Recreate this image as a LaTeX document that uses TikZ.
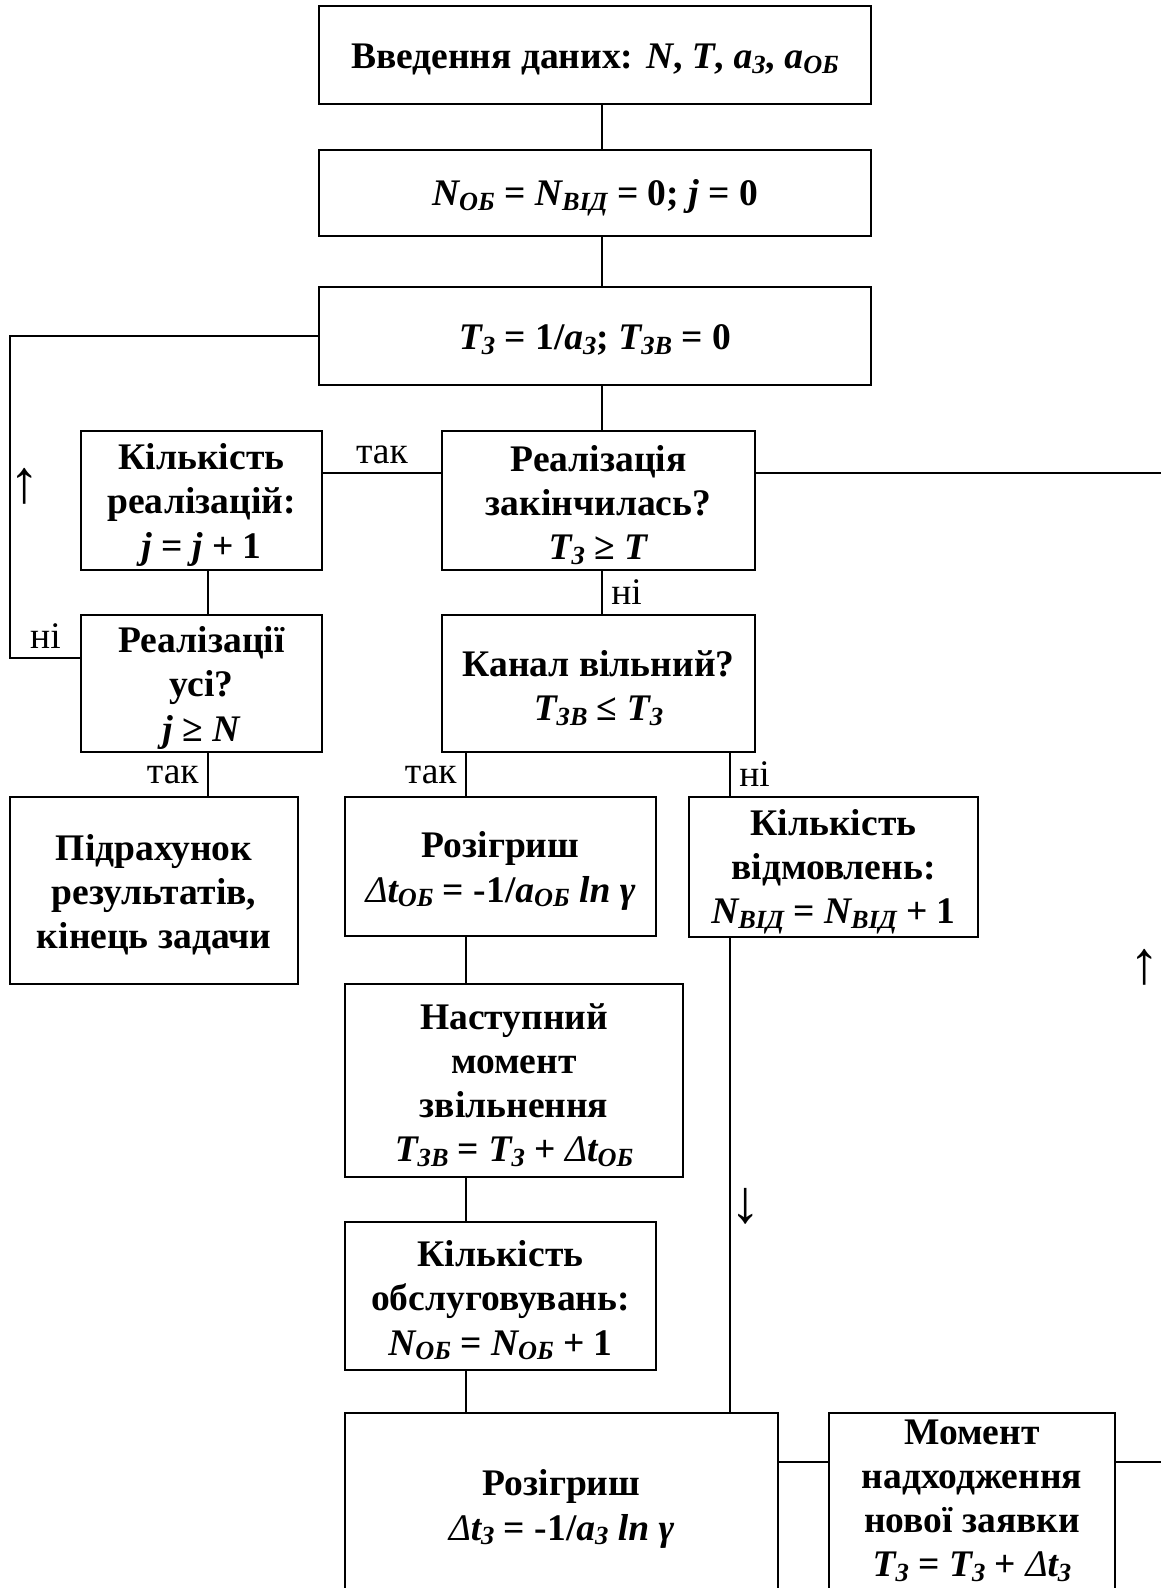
\documentclass[tikz,border=0pt]{standalone}
\usepackage{fontspec}
\setmainfont{Liberation Serif}
\usetikzlibrary{calc}
\def\px{0.3623} % one pixel of the layout, in pt
\tikzstyle{block}=[draw, line width=0.9pt, inner sep=0pt, outer sep=0pt]
\tikzstyle{blocktext}=[align=center, inner sep=0pt, font=\bfseries\fontsize{13.6pt}{16pt}\selectfont]
\tikzstyle{link}=[line width=0.75pt]
\tikzstyle{answer}=[font=\fontsize{13.6pt}{16pt}\selectfont, inner sep=3pt]
\tikzstyle{pointer}=[font=\fontsize{22pt}{22pt}\selectfont, inner sep=0pt]
\newcommand{\lowidx}[1]{\raisebox{-0.13em}{\fontsize{9.5pt}{10pt}\selectfont #1}}
\newcommand{\drawblock}[7][-1.6pt]{% [text shift] name, left, top, right, bottom, text
  \pgfmathsetmacro{\bw}{(#5-#3)*\px}
  \pgfmathsetmacro{\bh}{(#6-#4)*\px}
  \node[block, minimum width=\bw pt, minimum height=\bh pt] (#2) at ({(#3+#5)/2},{(#4+#6)/2}) {};
  \node[blocktext] (#2-text) at ([yshift=#1]#2.center) {#7};
}
\begin{document}
\begin{tikzpicture}[x=0.3623pt, y=-0.3623pt]
	\useasboundingbox (0,0) rectangle (1161,1588);
	% columns and rows of the connectors
	\coordinate (maincol) at (602,0);
	\coordinate (leftcol) at (208,0);
	\coordinate (yescol) at (466,0);
	\coordinate (nocol) at (730,0);
	\coordinate (loopcol) at (10,0);
	\coordinate (endrow) at (0,473);
	\coordinate (allrow) at (0,658);
	\coordinate (newrow) at (0,1462);
	\coordinate (edgeA) at (1161,473);
	\coordinate (edgeB) at (1161,1462);
	% blocks
	\drawblock{input}{319}{6}{871}{104}{Введення даних: \textit{N}, \textit{T}, \textit{a\lowidx{З}}, \textit{a\lowidx{ОБ}}}
	\drawblock{init}{319}{150}{871}{236}{\textit{N\lowidx{ОБ}} = \textit{N\lowidx{ВІД}} = 0; \textit{j} = 0}
	\drawblock{start}{319}{287}{871}{385}{\textit{T\lowidx{З}} = 1/\textit{a\lowidx{З}}; \textit{T\lowidx{ЗВ}} = 0}
	\drawblock{count}{81}{431}{322}{570}{Кількість\\реалізацій:\\\textit{j} = \textit{j} + 1}
	\drawblock{over}{442}{431}{755}{570}{Реалізація\\закінчилась?\\\textit{T\lowidx{З}} ≥ \textit{T}}
	\drawblock{all}{81}{615}{322}{752}{Реалізації\\усі?\\\textit{j} ≥ \textit{N}}
	\drawblock{free}{442}{615}{755}{752}{Канал вільний?\\\textit{T\lowidx{ЗВ}} ≤ \textit{T\lowidx{З}}}
	\drawblock{result}{10}{797}{298}{984}{Підрахунок\\результатів,\\кінець задачи}
	\drawblock{drawserv}{345}{797}{656}{936}{Розігриш\\{\mdseries\itshape Δ}\textit{t\lowidx{ОБ}} = -1/\textit{a\lowidx{ОБ}} \textit{ln γ}}
	\drawblock{refuse}{689}{797}{978}{937}{Кількість\\відмовлень:\\\textit{N\lowidx{ВІД}} = \textit{N\lowidx{ВІД}} + 1}
	\drawblock{release}{345}{984}{683}{1177}{Наступний\\момент\\звільнення\\\textit{T\lowidx{ЗВ}} = \textit{T\lowidx{З}} + {\mdseries\itshape Δ}\textit{t\lowidx{ОБ}}}
	\drawblock{served}{345}{1222}{656}{1370}{Кількість\\обслуговувань:\\\textit{N\lowidx{ОБ}} = \textit{N\lowidx{ОБ}} + 1}
	\drawblock{drawnew}{345}{1413}{778}{1596}{Розігриш\\{\mdseries\itshape Δ}\textit{t\lowidx{З}} = -1/\textit{a\lowidx{З}} \textit{ln γ}}
	\drawblock[1.3pt]{arrival}{829}{1413}{1115}{1596}{Момент\\надходження\\нової заявки\\\textit{T\lowidx{З}} = \textit{T\lowidx{З}} + {\mdseries\itshape Δ}\textit{t\lowidx{З}}}
	% connectors
	\draw[link] (maincol |- input.south) -- (maincol |- init.north);
	\draw[link] (maincol |- init.south) -- (maincol |- start.north);
	\draw[link] (maincol |- start.south) -- (maincol |- over.north);
	\draw[link] (maincol |- over.south) -- node[answer, right] {ні} (maincol |- free.north);
	\draw[link] (over.west |- endrow) -- node[answer, above] {так} (count.east |- endrow);
	\draw[link] (over.east |- endrow) -- (edgeA);
	\draw[link] (leftcol |- count.south) -- (leftcol |- all.north);
	\draw[link] (all.west |- allrow) -- node[answer, above] {ні} (loopcol |- allrow) |- (start.west);
	\node[pointer, anchor=west] (backup) at (9,486) {↑};
	\draw[link] (leftcol |- all.south) -- node[answer, left] {так} (leftcol |- result.north);
	\draw[link] (yescol |- free.south) -- node[answer, left] {так} (yescol |- drawserv.north);
	\draw[link] (nocol |- free.south) -- node[answer, right] {ні} (nocol |- refuse.north);
	\draw[link] (nocol |- refuse.south) -- (nocol |- drawnew.north);
	\node[pointer, anchor=west] (down) at (730,1206) {↓};
	\draw[link] (yescol |- drawserv.south) -- (yescol |- release.north);
	\draw[link] (yescol |- release.south) -- (yescol |- served.north);
	\draw[link] (yescol |- served.south) -- (yescol |- drawnew.north);
	\draw[link] (drawnew.east |- newrow) -- (arrival.west |- newrow);
	\draw[link] (arrival.east |- newrow) -- (edgeB);
	\node[pointer, anchor=east] (backright) at (1160,967) {↑};
\end{tikzpicture}
\end{document}
